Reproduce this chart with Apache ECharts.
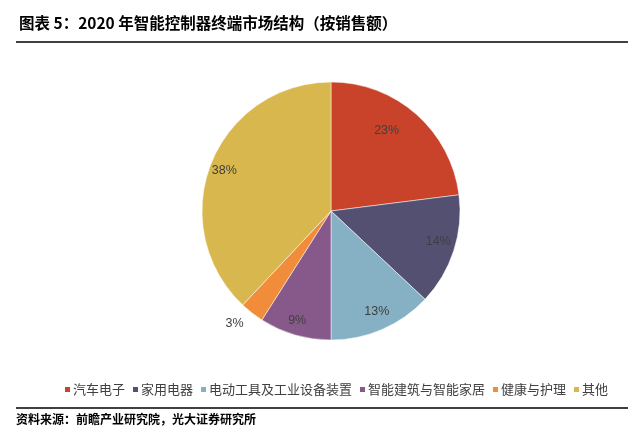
<!DOCTYPE html>
<html><head><meta charset="utf-8">
<script src="https://cdn.jsdelivr.net/npm/echarts@6/dist/echarts.min.js"></script>
<style>html,body{margin:0;padding:0;background:#fff}#c{width:640px;height:434px}</style>
</head><body><div id="c"></div>
<script>
var categories = ['汽车电子','家用电器','电动工具及工业设备装置','智能建筑与智能家居','健康与护理','其他'];
var values = [23, 14, 13, 9, 3, 38];
var colors = ['#C8432A','#545072','#86B1C4','#87598B','#F08C3A','#D8B84E'];
var labelOffsets = [[11,-30],[43,10],[19,39],[-15,45],[-55,59],[-44,-16]];

var chart = echarts.init(document.getElementById('c'));
var data = categories.map(function(n,i){
  return {name:n, value:values[i], itemStyle:{color:colors[i]}, label:{offset:labelOffsets[i]}};
});
chart.setOption({
  animation:false,
  title:{text:'图表 5：2020 年智能控制器终端市场结构（按销售额）', left:14, top:10,
    textStyle:{fontFamily:'Noto Sans CJK SC', fontSize:15.5, fontWeight:'bold', color:'#000'}},
  legend:{left:58, top:378, itemWidth:7, itemHeight:7, itemGap:6, icon:'rect',
    textStyle:{fontFamily:'Noto Sans CJK SC', fontSize:13, color:'#404040', padding:[0,0,0,-3]},
    data:categories},
  graphic:[
    {type:'line', shape:{x1:16,y1:42,x2:628,y2:42}, style:{stroke:'#000', lineWidth:1.5}},
    {type:'line', shape:{x1:16,y1:408,x2:628,y2:408}, style:{stroke:'#000', lineWidth:1.5}},
    {type:'text', left:16, top:413, style:{text:'资料来源：前瞻产业研究院，光大证券研究所', fontFamily:'Noto Sans CJK SC', fontSize:12, fontWeight:'bold', fill:'#000'}}
  ],
  series:[{
    type:'pie', center:[331,211], radius:129, startAngle:90, clockwise:true,
    itemStyle:{borderColor:'#fff', borderWidth:0.5},
    label:{show:true, position:'inside', formatter:'{d}%', fontFamily:'Liberation Sans', fontSize:12.5, color:'#404040'},
    labelLine:{show:false},
    emphasis:{disabled:true},
    data:data
  }]
});
</script></body></html>
